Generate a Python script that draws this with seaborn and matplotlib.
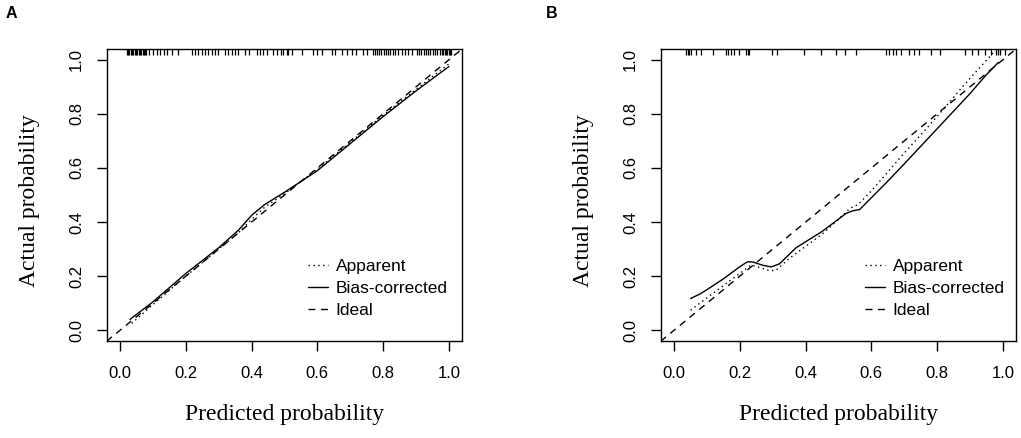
import matplotlib
matplotlib.use('Agg')
import matplotlib.pyplot as plt
import seaborn as sns

# ---- data ----
ticks = [0.0, 0.2, 0.4, 0.6, 0.8, 1.0]
tick_labels = ['0.0', '0.2', '0.4', '0.6', '0.8', '1.0']
ideal = [-0.1, 1.1]

# panel A
a_app_x = [0.035, 0.1, 0.2, 0.3, 0.36, 0.4, 0.44, 0.5, 0.55, 0.6, 0.7, 0.8, 0.9, 1.0]
a_app_y = [0.025, 0.095, 0.2, 0.3, 0.36, 0.41, 0.455, 0.505, 0.55, 0.595, 0.695, 0.795, 0.89, 0.985]
a_bias_x = [0.03, 0.1, 0.2, 0.3, 0.36, 0.4, 0.44, 0.5, 0.55, 0.6, 0.7, 0.8, 0.9, 1.0]
a_bias_y = [0.04, 0.105, 0.21, 0.305, 0.37, 0.425, 0.465, 0.51, 0.55, 0.59, 0.69, 0.79, 0.885, 0.975]
a_rug = [0.020, 0.024, 0.028, 0.032, 0.036, 0.040, 0.044, 0.048, 0.052, 0.056,
         0.060, 0.064, 0.068, 0.072, 0.076, 0.080, 0.089, 0.099, 0.111, 0.122,
         0.132, 0.144, 0.157, 0.177, 0.218, 0.228, 0.238, 0.248, 0.258, 0.268,
         0.279, 0.289, 0.299, 0.319, 0.329, 0.339, 0.350, 0.360, 0.380, 0.393,
         0.415, 0.426, 0.436, 0.446, 0.466, 0.476, 0.488, 0.496, 0.507, 0.512,
         0.522, 0.552, 0.588, 0.598, 0.613, 0.643, 0.653, 0.674, 0.689, 0.704,
         0.719, 0.740, 0.750, 0.770, 0.776, 0.782, 0.789, 0.795, 0.802, 0.808,
         0.815, 0.822, 0.829, 0.836, 0.846, 0.856, 0.866, 0.877, 0.887, 0.902,
         0.909, 0.916, 0.923, 0.930, 0.937, 0.944, 0.951, 0.958, 0.965, 0.972,
         0.978, 0.983, 0.987, 0.991, 0.995, 0.999, 1.003, 1.008]

# panel B
b_app_x = [0.05, 0.1, 0.15, 0.2, 0.234, 0.26, 0.29, 0.31, 0.35, 0.4, 0.45, 0.5,
           0.534, 0.56, 0.6, 0.65, 0.7, 0.767, 0.828, 0.87, 0.91, 0.97]
b_app_y = [0.074, 0.12, 0.165, 0.21, 0.241, 0.232, 0.22, 0.222, 0.265, 0.31, 0.355, 0.41,
           0.45, 0.465, 0.515, 0.585, 0.655, 0.745, 0.83, 0.89, 0.945, 1.025]
b_bias_x = [0.05, 0.08, 0.1, 0.15, 0.2, 0.223, 0.24, 0.27, 0.295, 0.32, 0.371, 0.45,
            0.523, 0.545, 0.564, 0.6, 0.645, 0.7, 0.75, 0.8, 0.85, 0.9, 0.95, 0.986]
b_bias_y = [0.117, 0.135, 0.15, 0.19, 0.235, 0.253, 0.252, 0.24, 0.234, 0.245, 0.305, 0.365,
            0.432, 0.442, 0.446, 0.49, 0.545, 0.615, 0.68, 0.745, 0.81, 0.875, 0.945, 0.99]
b_rug = [0.036, 0.041, 0.046, 0.051, 0.066, 0.081, 0.117, 0.157, 0.163, 0.173,
         0.183, 0.198, 0.218, 0.224, 0.229, 0.298, 0.313, 0.396, 0.447, 0.493,
         0.520, 0.552, 0.645, 0.655, 0.666, 0.676, 0.691, 0.713, 0.729, 0.745,
         0.780, 0.808, 0.886, 0.906, 0.925, 0.945, 0.963, 0.978, 0.984, 0.990, 1.008]

sns.set_style('white')
plt.rcParams['font.family'] = ['Liberation Sans', 'DejaVu Sans']
plt.rcParams['text.color'] = 'black'
plt.rcParams['axes.labelcolor'] = 'black'
plt.rcParams['xtick.color'] = 'black'
plt.rcParams['ytick.color'] = 'black'

fig = plt.figure(figsize=(10.21, 4.38), dpi=100)
ax_a = fig.add_axes([107 / 1021, 97 / 438, 355 / 1021, 292 / 438])
ax_b = fig.add_axes([661 / 1021, 97 / 438, 355 / 1021, 292 / 438])

panels = [
    (ax_a, a_app_x, a_app_y, a_bias_x, a_bias_y, a_rug, 'A', 6, 0.566),
    (ax_b, b_app_x, b_app_y, b_bias_x, b_bias_y, b_rug, 'B', 546, 0.574),
]

for ax, ax_x, ax_y, bx, by, rug, letter, lx, leg_x in panels:
    sns.lineplot(x=ax_x, y=ax_y, ax=ax, color='black', lw=1.0,
                 linestyle=(0, (1, 2.5)), label='Apparent', sort=False)
    sns.lineplot(x=bx, y=by, ax=ax, color='black', lw=1.0,
                 linestyle='-', label='Bias-corrected', sort=False)
    sns.lineplot(x=ideal, y=ideal, ax=ax, color='black', lw=1.0,
                 linestyle=(0, (5, 4)), label='Ideal', sort=False)
    ax.vlines(rug, 0.978, 1.0, transform=ax.get_xaxis_transform(),
              color='black', lw=0.9)

    ax.set_xlim(-0.04, 1.04)
    ax.set_ylim(-0.04, 1.04)
    ax.set_xticks(ticks)
    ax.set_yticks(ticks)
    ax.set_xticklabels(tick_labels, fontsize=12)
    ax.set_yticklabels(tick_labels, fontsize=12, rotation=90, va='center')
    ax.tick_params(axis='both', direction='out', length=7.5, width=1.0,
                   color='black', labelcolor='black', left=True, bottom=True)
    ax.tick_params(axis='x', pad=10.5)
    ax.tick_params(axis='y', pad=9)
    for sp in ax.spines.values():
        sp.set_color('black')
        sp.set_linewidth(1.0)

    ax.set_xlabel('Predicted probability', family='Liberation Serif', fontsize=17)
    ax.set_ylabel('Actual probability', family='Liberation Serif', fontsize=17)
    ax.xaxis.set_label_coords(0.5, -0.253)
    ax.xaxis.label.set_va('center')
    ax.yaxis.set_label_coords(-0.217, 0.48)
    ax.yaxis.label.set_va('center')

    ax.legend(loc='upper left', bbox_to_anchor=(leg_x, 0.281),
              frameon=False, fontsize=12.5, handlelength=1.15, handletextpad=0.45,
              labelspacing=0.38, borderpad=0, borderaxespad=0)

    fig.text(lx / 1021, 1 - 14 / 438, letter, fontsize=11.5, fontweight='bold',
             ha='left', va='center')

fig.savefig('out.png', dpi=100)
